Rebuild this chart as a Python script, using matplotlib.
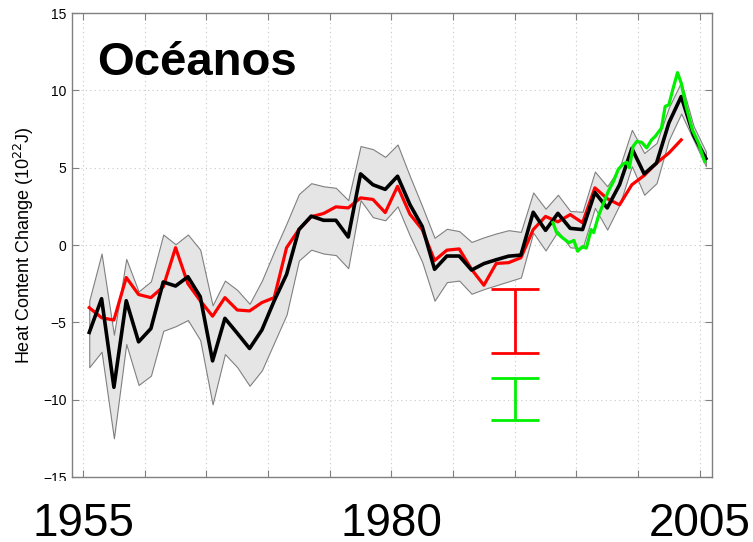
import matplotlib
matplotlib.use("Agg")
import matplotlib.pyplot as plt
from matplotlib.patches import Rectangle
import numpy as np

plt.rcParams['font.family'] = ['Liberation Sans', 'DejaVu Sans']

# annual means, plotted at mid-year
years = np.arange(1955, 2006) + 0.5
heat = [-5.65, -3.47, -9.2, -3.6, -6.26, -5.4, -2.39, -2.65, -2.05, -3.34,
        -7.49, -4.74, -5.7, -6.69, -5.49, -3.6, -1.9, 1.0, 1.87, 1.6,
        1.6, 0.52, 4.6, 3.9, 3.6, 4.45, 2.62, 1.2, -1.57, -0.71,
        -0.71, -1.62, -1.2, -0.95, -0.72, -0.65, 2.12, 0.95, 2.05, 1.08,
        1.0, 3.4, 2.4, 3.9, 6.25, 4.6, 5.3, 7.9, 9.6, 7.1,
        5.6]
heat_hi = [-3.6, -0.55, -5.8, -0.9, -3.0, -2.35, 0.68, 0.05, 0.68, -0.3,
           -3.9, -2.3, -2.9, -3.8, -2.3, -0.4, 1.4, 3.3, 4.0, 3.8,
           3.7, 2.9, 6.4, 6.2, 5.7, 6.5, 4.45, 2.5, 0.47, 1.05,
           0.9, 0.2, 0.5, 0.75, 0.96, 0.85, 3.4, 2.35, 3.25, 2.2,
           2.15, 4.75, 3.8, 5.0, 7.45, 5.95, 6.6, 8.9, 10.55, 7.7,
           6.05]
heat_lo = [-7.9, -6.9, -12.5, -6.4, -9.05, -8.45, -5.55, -5.25, -4.85, -6.15,
           -10.3, -7.05, -7.9, -9.1, -8.1, -6.3, -4.5, -1.0, -0.3, -0.55,
           -0.65, -1.5, 2.9, 1.8, 1.6, 2.5, 0.6, -1.1, -3.6, -2.4,
           -2.3, -3.15, -2.85, -2.6, -2.35, -2.1, 0.8, -0.35, 0.9, -0.15,
           -0.2, 2.4, 1.0, 2.6, 5.1, 3.25, 4.0, 6.8, 8.5, 6.8,
           5.1]

# second estimate, 1955-2003
red_years = np.arange(1955, 2004) + 0.5
red_heat = [-4.05, -4.7, -4.85, -2.1, -3.2, -3.4, -2.7, -0.17, -2.5, -3.6,
            -4.6, -3.4, -4.2, -4.26, -3.72, -3.4, -0.17, 1.0, 1.83, 2.04,
            2.47, 2.4, 3.05, 2.95, 2.1, 3.8, 2.0, 1.0, -1.0, -0.33,
            -0.25, -1.57, -2.6, -1.19, -1.14, -0.82, 1.0, 1.85, 1.5, 1.97,
            1.44, 3.7, 3.0, 2.6, 3.9, 4.5, 5.3, 5.95, 6.8]

# altimetry-based estimate, 1993 onwards
green_years = [1993.1, 1993.4, 1993.9, 1994.4, 1994.8, 1995.1, 1995.5, 1995.8,
               1996.2, 1996.4, 1996.8, 1997.2, 1997.6, 1998.0, 1998.4, 1998.8,
               1999.1, 1999.3, 1999.6, 1999.9, 2000.3, 2000.7, 2001.1, 2001.4,
               2001.9, 2002.2, 2002.5, 2002.8, 2003.2, 2003.5, 2003.9, 2004.4,
               2004.9, 2005.4]
green_heat = [1.45, 0.8, 0.45, 0.15, 0.3, -0.4, -0.1, -0.2,
              1.0, 0.8, 1.9, 2.7, 3.5, 4.1, 4.9, 5.25,
              5.35, 5.0, 6.38, 6.7, 6.64, 6.28, 6.8, 7.03,
              7.57, 8.96, 9.07, 10.0, 11.15, 10.47, 8.96, 7.46,
              6.6, 5.41]

# uncertainty bars (low, high)
bar_year = 1990.0
red_bar = (-7.0, -2.85)
green_bar = (-11.3, -8.6)

year_labels = [1955, 1980, 2005]

fig = plt.figure(figsize=(7.53, 5.42), dpi=100)
ax = fig.add_axes([0.0956, 0.1199, 0.85, 0.856])

ax.fill_between(years, heat_lo, heat_hi, facecolor='#e5e5e5',
                edgecolor='#808080', linewidth=0.8, zorder=2)
ax.plot(red_years, red_heat, color='#ff0000', lw=2.3, zorder=3)
ax.plot(years, heat, color='black', lw=2.6, zorder=4)
ax.plot(green_years, green_heat, color='#00f000', lw=2.3, zorder=5)

for (lo, hi), col in [(red_bar, '#ff0000'), (green_bar, '#00f000')]:
    mid = (lo + hi) / 2
    ax.errorbar([bar_year], [mid], yerr=[(hi - lo) / 2], color=col, lw=2,
                capsize=17, capthick=2, zorder=5)

ax.set_xlim(1954.1, 2006.0)
ax.set_ylim(-15, 15)
ax.set_xticks(np.arange(1955, 2006, 5))
ax.set_xticklabels([])
ax.set_yticks(np.arange(-15, 16, 5))
ax.tick_params(direction='in', top=True, right=True, length=5,
               color='#808080', labelsize=10, pad=4)
ax.grid(True, color='#c8c8c8', linestyle=(0, (1, 3)), linewidth=0.8)
ax.set_axisbelow(True)
for s in ax.spines.values():
    s.set_color('#808080')
    s.set_linewidth(1.0)

ax.set_ylabel('Heat Content Change (10$^{22}$J)', fontsize=13, labelpad=5)

ax.text(0.039, 0.866, 'Océanos', transform=ax.transAxes, fontsize=34,
        fontweight='bold', ha='left', va='baseline')

# blank strip under the frame (hides the lower half of the -15 label)
fig.add_artist(Rectangle((0, 0), 0.09, 0.112, transform=fig.transFigure,
                         facecolor='white', edgecolor='none', zorder=10))

# big year labels, drawn on top of the strip
for yr in year_labels:
    fig.text(yr, -0.127, str(yr), transform=ax.get_xaxis_transform(),
             fontsize=33, ha='center', va='baseline', zorder=11)

fig.savefig('out.png', dpi=100)
